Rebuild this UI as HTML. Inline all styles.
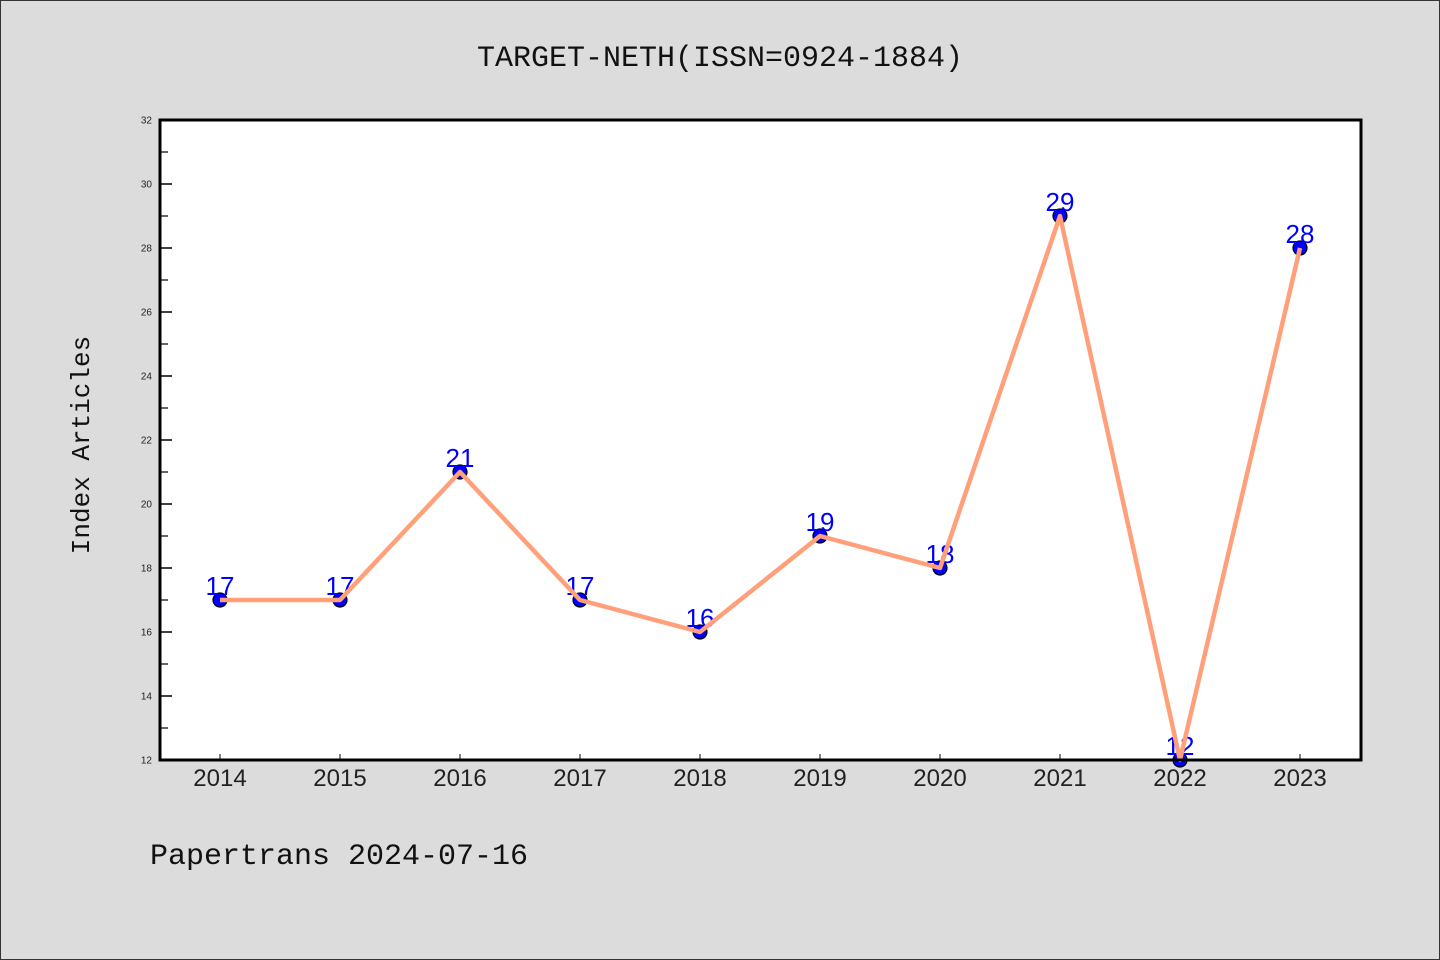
<!DOCTYPE html>
<html><head><meta charset="utf-8"><style>
html,body{margin:0;padding:0;background:#dcdcdc;}
svg{display:block;font-family:"Liberation Mono","DejaVu Sans Mono",monospace;}
</style></head><body>
<svg id="chart" width="1440" height="960" xmlns="http://www.w3.org/2000/svg">
<rect x="0.5" y="0.5" width="1439" height="959" fill="#dcdcdc" stroke="#333" stroke-width="1"/>
<text x="720" y="66" text-anchor="middle" font-size="30" fill="#111">TARGET-NETH(ISSN=0924-1884)</text>
<rect x="160" y="120" width="1201" height="640" fill="#fff"/>
<g id="axes"></g>
<g id="marks"></g>
<rect x="160" y="120" width="1201" height="640" fill="none" stroke="#000" stroke-width="3"/>
<text transform="translate(89,445) rotate(-90)" text-anchor="middle" font-size="26" fill="#111">Index Articles</text>
<text x="150" y="864" font-size="30" fill="#111">Papertrans 2024-07-16</text>
</svg>
<script>
const years = [2014,2015,2016,2017,2018,2019,2020,2021,2022,2023];
const counts = [17,17,21,17,16,19,18,29,12,28];
const yTicks = [12,14,16,18,20,22,24,26,28,30,32];
const yMin=12,yMax=32;
const NS="http://www.w3.org/2000/svg";
function xPos(i){return 220+i*120;}
function yPos(v){return 760-(v-yMin)/(yMax-yMin)*640;}
function mk(tag,attrs,parent,txt){const e=document.createElementNS(NS,tag);for(const k in attrs)e.setAttribute(k,attrs[k]);if(txt!==undefined)e.textContent=txt;parent.appendChild(e);return e;}
const axes=document.getElementById('axes'),marks=document.getElementById('marks');
yTicks.forEach(v=>{
  const t=mk('line',{x1:160,x2:172,y1:yPos(v),y2:yPos(v),stroke:'#000','stroke-width':1.5},axes);
  
  
  const l=mk('text',{x:152,y:yPos(v)+3.5,'text-anchor':'end','font-size':10,fill:'#222','font-family':'Liberation Sans, sans-serif'},axes,String(v));
  
  
  if(v<yMax){
    const m=mk('line',{x1:160,x2:168,y1:yPos(v+1),y2:yPos(v+1),stroke:'#000','stroke-width':1.2},axes);
    
    
  }
});
years.forEach((yr,i)=>{
  const t=mk('line',{x1:xPos(i),x2:xPos(i),y1:760,y2:754,stroke:'#000','stroke-width':1},axes);
  
  
  const l=mk('text',{x:xPos(i),y:786,'text-anchor':'middle','font-size':24,fill:'#222','font-family':'Liberation Sans, sans-serif'},axes,String(yr));
  
  
});
counts.forEach((c,i)=>{
  const p=mk('circle',{cx:xPos(i),cy:yPos(c),r:7,fill:'#0000ff',stroke:'#000','stroke-width':1.2},marks);
  
  
  const l=mk('text',{x:xPos(i),y:yPos(c)-5,'text-anchor':'middle','font-size':26,fill:'#0000ff','font-family':'Liberation Sans, sans-serif'},marks,String(c));
  
  
});
const line=mk('polyline',{points:counts.map((c,i)=>xPos(i)+','+yPos(c)).join(' '),fill:'none',stroke:'#ffa07a','stroke-width':4.5,'stroke-linejoin':'round'},marks);


</script>
</body></html>
